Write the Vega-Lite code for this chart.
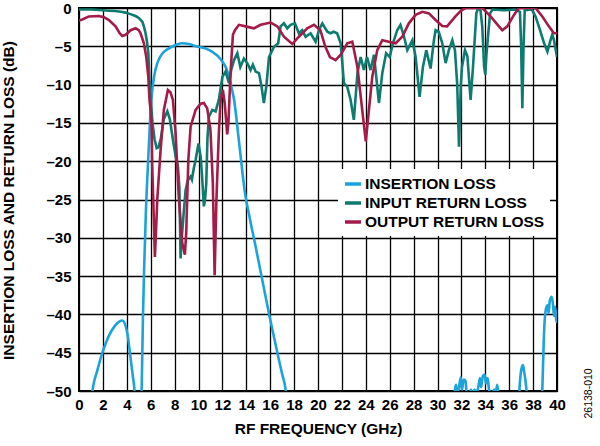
{
  "$schema": "https://vega.github.io/schema/vega-lite/v6.json",
  "autosize": "none",
  "width": 478,
  "height": 383,
  "padding": {"left": 79, "top": 8, "right": 43, "bottom": 55},
  "background": "white",
  "config": {
    "font": "Liberation Sans",
    "view": {"stroke": "#000", "strokeWidth": 2},
    "axis": {
      "labelFont": "Liberation Sans", "labelFontWeight": "bold", "labelFontSize": 15, "labelColor": "#000",
      "titleFont": "Liberation Sans", "titleFontWeight": "bold", "titleFontSize": 15.5, "titleColor": "#000",
      "grid": true, "gridColor": "#000", "gridWidth": 1.3, "gridOpacity": 1,
      "domain": false, "ticks": false
    }
  },
  "datasets": {
    "ins": [
      {"f":0.8,"v":-55},{"f":1.16,"v":-49.6},{"f":1.5,"v":-47.5},{"f":2.0,"v":-44.8},{"f":2.5,"v":-42.8},{"f":3.0,"v":-41.5},{"f":3.4,"v":-40.9},{"f":3.62,"v":-40.8},{"f":3.9,"v":-41.5},{"f":4.1,"v":-43},{"f":4.3,"v":-45.5},{"f":4.5,"v":-48},{"f":4.65,"v":-50},{"f":4.8,"v":-55},
      {"f":5.1,"v":-55},{"f":5.24,"v":-50},{"f":5.35,"v":-40.5},{"f":5.45,"v":-34},{"f":5.6,"v":-26.5},{"f":5.8,"v":-19.5},{"f":5.95,"v":-14.5},{"f":6.1,"v":-11.2},{"f":6.3,"v":-8.8},{"f":6.6,"v":-7.0},{"f":7.0,"v":-5.9},{"f":7.5,"v":-5.3},{"f":8.0,"v":-4.9},{"f":8.6,"v":-4.6},{"f":9.2,"v":-4.7},{"f":9.8,"v":-5.0},{"f":10.4,"v":-5.2},{"f":10.9,"v":-5.5},{"f":11.4,"v":-6.0},{"f":11.7,"v":-6.4},{"f":12.0,"v":-7.0},{"f":12.3,"v":-7.8},{"f":12.6,"v":-9.2},{"f":12.8,"v":-10.6},{"f":13.0,"v":-12.2},{"f":13.25,"v":-15.5},{"f":13.5,"v":-19},{"f":13.86,"v":-23.8},{"f":14.3,"v":-27.5},{"f":14.8,"v":-31.3},{"f":15.3,"v":-35.2},{"f":15.95,"v":-40.3},{"f":16.5,"v":-44.3},{"f":17.0,"v":-47.8},{"f":17.3,"v":-50},{"f":17.5,"v":-55},
      {"f":31.3,"v":-55},{"f":31.45,"v":-50},{"f":31.55,"v":-49.2},{"f":31.65,"v":-50.3},{"f":31.8,"v":-49.5},{"f":31.95,"v":-48.2},{"f":32.05,"v":-49.8},{"f":32.2,"v":-48.5},{"f":32.35,"v":-48.7},{"f":32.45,"v":-50.5},{"f":32.7,"v":-50.5},{"f":32.8,"v":-49.8},{"f":32.9,"v":-50.5},{"f":33.1,"v":-49.8},{"f":33.25,"v":-50.3},{"f":33.4,"v":-49.6},{"f":33.55,"v":-48.3},{"f":33.65,"v":-49.5},{"f":33.8,"v":-48.0},{"f":33.95,"v":-47.9},{"f":34.05,"v":-49.0},{"f":34.2,"v":-48.3},{"f":34.3,"v":-49.7},{"f":34.45,"v":-50.3},{"f":34.6,"v":-50.3},{"f":34.75,"v":-49.8},{"f":34.85,"v":-50.5},{"f":35.0,"v":-49.2},{"f":35.1,"v":-50.5},{"f":35.3,"v":-55},
      {"f":36.7,"v":-55},{"f":36.85,"v":-50},{"f":37.0,"v":-47.3},{"f":37.15,"v":-46.6},{"f":37.25,"v":-47.5},{"f":37.35,"v":-48.5},{"f":37.45,"v":-50},{"f":37.6,"v":-55},
      {"f":38.6,"v":-55},{"f":38.77,"v":-50},{"f":38.9,"v":-43},{"f":39.05,"v":-39.5},{"f":39.2,"v":-38.8},{"f":39.3,"v":-39.8},{"f":39.4,"v":-38.2},{"f":39.55,"v":-37.7},{"f":39.65,"v":-38.5},{"f":39.75,"v":-40.2},{"f":39.85,"v":-39.0},{"f":39.95,"v":-41},{"f":40.0,"v":-39.5}
    ],
    "inp": [
      {"f":0,"v":-0.2},{"f":1,"v":-0.2},{"f":2,"v":-0.3},{"f":2.5,"v":-0.35},{"f":3.0,"v":-0.4},{"f":3.5,"v":-0.5},{"f":3.9,"v":-0.6},{"f":4.3,"v":-0.8},{"f":4.74,"v":-1.05},{"f":5.0,"v":-1.3},{"f":5.3,"v":-1.8},{"f":5.45,"v":-2.5},{"f":5.57,"v":-3.3},{"f":5.7,"v":-4.5},{"f":5.8,"v":-5.9},{"f":5.9,"v":-9.4},{"f":6.0,"v":-12},{"f":6.15,"v":-15},{"f":6.33,"v":-17.2},{"f":6.5,"v":-18.3},{"f":6.65,"v":-18.2},{"f":6.85,"v":-17},{"f":7.1,"v":-14.5},{"f":7.39,"v":-13.5},{"f":7.6,"v":-14.5},{"f":7.86,"v":-17.2},{"f":8.1,"v":-19.5},{"f":8.28,"v":-20.7},{"f":8.4,"v":-23.5},{"f":8.5,"v":-32.7},{"f":8.6,"v":-30},{"f":8.78,"v":-26.4},{"f":8.92,"v":-23.8},{"f":9.1,"v":-22.5},{"f":9.34,"v":-22},{"f":9.45,"v":-22.4},{"f":9.6,"v":-21},{"f":9.76,"v":-19.8},{"f":10.0,"v":-17.7},{"f":10.18,"v":-19.4},{"f":10.3,"v":-22},{"f":10.45,"v":-25.9},{"f":10.55,"v":-25},{"f":10.65,"v":-22.9},{"f":10.75,"v":-17},{"f":10.87,"v":-14.2},{"f":11.15,"v":-13.3},{"f":11.43,"v":-13.5},{"f":11.7,"v":-12},{"f":11.85,"v":-10.5},{"f":12.0,"v":-9.0},{"f":12.27,"v":-8.3},{"f":12.55,"v":-9.8},{"f":12.75,"v":-8},{"f":12.97,"v":-6.8},{"f":13.25,"v":-5.9},{"f":13.5,"v":-7.7},{"f":13.8,"v":-6.6},{"f":14.08,"v":-7.2},{"f":14.36,"v":-8.1},{"f":14.55,"v":-7.4},{"f":14.78,"v":-8.3},{"f":15.06,"v":-8.5},{"f":15.28,"v":-10.3},{"f":15.47,"v":-12.4},{"f":15.67,"v":-10.3},{"f":15.9,"v":-6.4},{"f":16.3,"v":-5.1},{"f":16.67,"v":-4.6},{"f":16.87,"v":-2.4},{"f":17.15,"v":-2.0},{"f":17.43,"v":-2.65},{"f":17.7,"v":-2.2},{"f":18.07,"v":-2.0},{"f":18.4,"v":-3.3},{"f":18.68,"v":-2.9},{"f":18.96,"v":-3.75},{"f":19.38,"v":-3.3},{"f":19.8,"v":-4.4},{"f":20.1,"v":-2.8},{"f":20.36,"v":-2.0},{"f":20.78,"v":-3.1},{"f":21.05,"v":-3.3},{"f":21.3,"v":-3.1},{"f":21.6,"v":-3.3},{"f":21.9,"v":-4.6},{"f":22.17,"v":-9.8},{"f":22.45,"v":-10.3},{"f":22.73,"v":-12},{"f":23.0,"v":-14.6},{"f":23.3,"v":-8.5},{"f":23.57,"v":-6.4},{"f":23.84,"v":-8.1},{"f":24.1,"v":-6.4},{"f":24.4,"v":-8.1},{"f":24.68,"v":-6.1},{"f":25.1,"v":-12.4},{"f":25.38,"v":-8.5},{"f":25.7,"v":-5.9},{"f":26.0,"v":-6.4},{"f":26.27,"v":-4.6},{"f":26.63,"v":-2.9},{"f":26.9,"v":-2.2},{"f":27.2,"v":-3.75},{"f":27.47,"v":-5.5},{"f":27.9,"v":-4.2},{"f":28.17,"v":-6.4},{"f":28.5,"v":-11.6},{"f":28.78,"v":-7.7},{"f":29.06,"v":-5.5},{"f":29.42,"v":-7.9},{"f":29.7,"v":-4.2},{"f":29.84,"v":-2.9},{"f":30.1,"v":-3.1},{"f":30.4,"v":-4.6},{"f":30.68,"v":-7.2},{"f":30.95,"v":-5.5},{"f":31.24,"v":-4.2},{"f":31.46,"v":-5.5},{"f":31.65,"v":-10},{"f":31.8,"v":-18.1},{"f":31.95,"v":-10},{"f":32.05,"v":-7.7},{"f":32.3,"v":-5.5},{"f":32.5,"v":-6.3},{"f":32.77,"v":-12},{"f":32.97,"v":-7.7},{"f":33.25,"v":-0.7},{"f":33.4,"v":0},{"f":33.6,"v":-0.3},{"f":33.75,"v":-2.5},{"f":33.9,"v":-7.7},{"f":34.0,"v":-8.7},{"f":34.1,"v":-6},{"f":34.25,"v":-3.3},{"f":34.4,"v":-0.7},{"f":34.6,"v":-0.2},{"f":35.5,"v":-0.3},{"f":36.5,"v":-0.2},{"f":36.9,"v":-0.5},{"f":37.0,"v":-5},{"f":37.1,"v":-13.1},{"f":37.2,"v":-5},{"f":37.3,"v":-0.3},{"f":37.9,"v":-0.2},{"f":38.2,"v":-1.1},{"f":38.5,"v":-2.5},{"f":38.9,"v":-4.5},{"f":39.2,"v":-5.7},{"f":39.46,"v":-4.2},{"f":39.6,"v":-3.5},{"f":39.75,"v":-4.2},{"f":40,"v":-6.4}
    ],
    "out": [
      {"f":0,"v":-1.65},{"f":0.28,"v":-1.5},{"f":0.83,"v":-1.1},{"f":1.67,"v":-1.05},{"f":2.1,"v":-1.2},{"f":2.5,"v":-1.57},{"f":3.06,"v":-2.4},{"f":3.4,"v":-3.3},{"f":3.62,"v":-3.65},{"f":3.9,"v":-3.5},{"f":4.32,"v":-2.9},{"f":4.74,"v":-2.65},{"f":5.0,"v":-2.9},{"f":5.15,"v":-3.3},{"f":5.43,"v":-4.6},{"f":5.63,"v":-6.4},{"f":5.8,"v":-9.0},{"f":5.9,"v":-12},{"f":6.0,"v":-13.5},{"f":6.08,"v":-15.5},{"f":6.13,"v":-20.7},{"f":6.25,"v":-27},{"f":6.35,"v":-32.5},{"f":6.45,"v":-29},{"f":6.55,"v":-25},{"f":6.83,"v":-18.5},{"f":7.1,"v":-13.3},{"f":7.44,"v":-10.7},{"f":7.65,"v":-11},{"f":7.86,"v":-12},{"f":8.08,"v":-16.3},{"f":8.36,"v":-25},{"f":8.64,"v":-30.7},{"f":8.86,"v":-32.2},{"f":8.97,"v":-29.4},{"f":9.15,"v":-19.8},{"f":9.34,"v":-15.5},{"f":9.76,"v":-13.3},{"f":10.18,"v":-12.5},{"f":10.45,"v":-12.4},{"f":10.73,"v":-13.1},{"f":11.0,"v":-15.9},{"f":11.2,"v":-22.9},{"f":11.35,"v":-34.9},{"f":11.5,"v":-25},{"f":11.7,"v":-16.4},{"f":11.85,"v":-12},{"f":12.04,"v":-10.7},{"f":12.2,"v":-12.5},{"f":12.4,"v":-16.5},{"f":12.5,"v":-15},{"f":12.7,"v":-8},{"f":12.88,"v":-3.5},{"f":13.05,"v":-2.9},{"f":13.38,"v":-2.2},{"f":13.94,"v":-2.4},{"f":14.64,"v":-2.65},{"f":15.2,"v":-2.2},{"f":16.03,"v":-1.9},{"f":16.6,"v":-2.4},{"f":17.15,"v":-3.75},{"f":17.85,"v":-4.7},{"f":18.4,"v":-3.75},{"f":19.1,"v":-2.65},{"f":19.66,"v":-2.2},{"f":20.2,"v":-2.9},{"f":20.6,"v":-5.0},{"f":21.0,"v":-6.4},{"f":21.47,"v":-6.8},{"f":21.9,"v":-6.1},{"f":22.45,"v":-4.6},{"f":22.87,"v":-4.4},{"f":23.3,"v":-7.7},{"f":23.7,"v":-13.3},{"f":24.0,"v":-17.4},{"f":24.26,"v":-13.3},{"f":24.54,"v":-9.0},{"f":24.96,"v":-5.5},{"f":25.38,"v":-4.2},{"f":25.93,"v":-4.4},{"f":26.5,"v":-4.6},{"f":27.05,"v":-3.75},{"f":27.6,"v":-2.0},{"f":28.17,"v":-0.9},{"f":28.73,"v":-0.5},{"f":29.28,"v":-0.7},{"f":29.84,"v":-1.57},{"f":30.4,"v":-2.35},{"f":30.8,"v":-2.4},{"f":31.5,"v":-1.1},{"f":32.0,"v":-0.3},{"f":32.35,"v":0},{"f":33.75,"v":0},{"f":34.44,"v":-1.1},{"f":35.14,"v":-2.4},{"f":35.42,"v":-2.9},{"f":35.84,"v":-2.4},{"f":36.4,"v":-0.9},{"f":36.8,"v":0},{"f":38.2,"v":0},{"f":38.77,"v":-1.1},{"f":39.32,"v":-2.4},{"f":39.74,"v":-3.3},{"f":40,"v":-3.3}
    ]
  },
  "resolve": {"axis": {"y": "independent"}},
  "encoding": {
    "x": {"field": "f", "type": "quantitative",
      "scale": {"domain": [0, 40], "nice": false},
      "axis": {"values": [0,2,4,6,8,10,12,14,16,18,20,22,24,26,28,30,32,34,36,38,40], "labelPadding": 6, "title": "RF FREQUENCY (GHz)", "titlePadding": 9, "labelFlush": false}},
    "color": {
      "scale": {"domain": ["INSERTION LOSS", "INPUT RETURN LOSS", "OUTPUT RETURN LOSS"], "range": ["#1BA3DA", "#0D7B70", "#A51A47"]},
      "legend": {"orient": "none", "legendX": 259, "legendY": 161, "title": null, "fillColor": "white", "padding": 5, "labelLimit": 0,
        "symbolType": "stroke", "symbolSize": 256, "symbolStrokeWidth": 3.5, "labelFont": "Liberation Sans", "labelFontWeight": "bold", "labelFontSize": 15.5, "labelColor": "#000", "labelOffset": 2, "rowPadding": 0, "symbolOffset": 0}
    }
  },
  "layer": [
    {"data": {"name": "ins"}, "mark": {"type": "line", "clip": true, "strokeWidth": 2.6, "interpolate": "monotone"},
      "encoding": {"color": {"datum": "INSERTION LOSS"},
        "y": {"field": "v", "type": "quantitative", "scale": {"domain": [-50, 0], "nice": false},
          "axis": {"orient": "left", "values": [0,-5,-10,-15,-20,-25,-30,-35,-40,-45,-50], "labelPadding": 8, "labelExpr": "datum.value == 0 ? '0' : '–' + abs(datum.value)", "title": "INSERTION LOSS AND RETURN LOSS (dB)", "titleX": -63, "titleY": 192, "labelFlush": false}}}},
    {"data": {"name": "inp"}, "mark": {"type": "line", "clip": true, "strokeWidth": 2.6},
      "encoding": {"color": {"datum": "INPUT RETURN LOSS"}, "y": {"field": "v", "type": "quantitative", "axis": null}}},
    {"data": {"name": "out"}, "mark": {"type": "line", "clip": true, "strokeWidth": 2.6},
      "encoding": {"color": {"datum": "OUTPUT RETURN LOSS"}, "y": {"field": "v", "type": "quantitative", "axis": null}}},
    {"data": {"name": "out"}, "mark": {"type": "line", "clip": true, "strokeWidth": 1, "strokeOpacity": 0, "color": "#000"},
      "encoding": {"y": {"field": "v", "type": "quantitative",
        "axis": {"orient": "right", "title": "26138-010", "labels": false, "grid": false, "ticks": false, "domain": false,
          "titleAngle": 270, "titleX": 31, "titleY": 410, "titleAlign": "left", "titleBaseline": "middle", "titleFontSize": 10.5, "titleFontWeight": "normal"}}}}
  ]
}
